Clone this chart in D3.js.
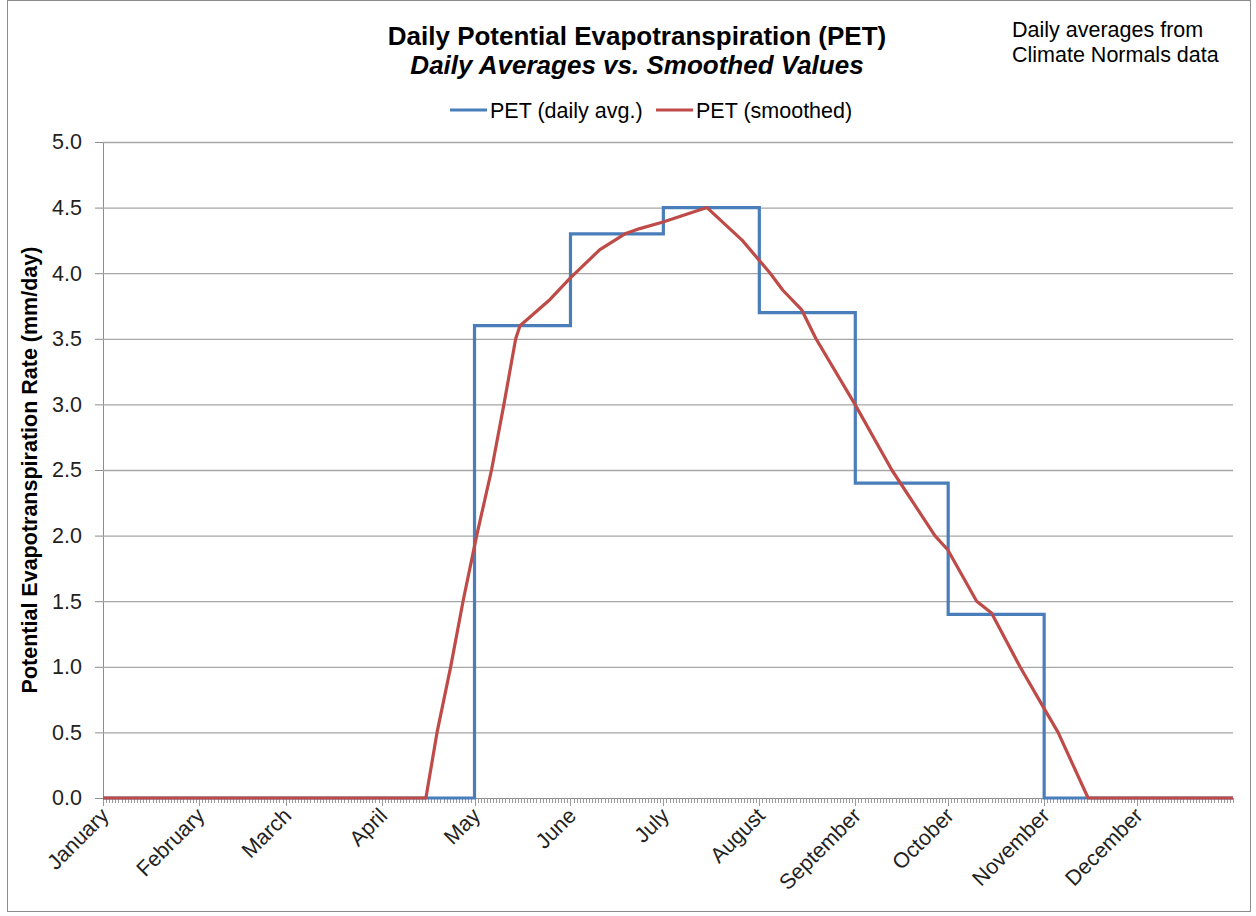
<!DOCTYPE html>
<html>
<head>
<meta charset="utf-8">
<script src="https://cdn.jsdelivr.net/npm/d3@7"></script>
<style>
  body { margin: 0; background: #fff; }
  text { font-family: "Liberation Sans", Arial, sans-serif; }
</style>
</head>
<body>
<div id="chart"></div>
<script>
// month names and first day of each month (day of year, 0-based)
const months = ["January", "February", "March", "April", "May", "June",
  "July", "August", "September", "October", "November", "December"];
const monthStart = [0, 31, 59, 90, 120, 151, 181, 212, 243, 273, 304, 334];
const daysInYear = 365;

// monthly daily-average PET (mm/day), held for the whole month
const petMonthly = [0, 0, 0, 0, 3.6, 4.3, 4.5, 3.7, 2.4, 1.4, 0, 0];

// smoothed PET (day of year, mm/day)
const smoothDay = [0, 104.3, 107.9, 112.3, 116.3, 120.7, 125.5, 129.5, 133.3, 134.7, 144.4,
  150.8, 160.5, 168.6, 173.4, 180.9, 195.1, 206.5, 215.5, 219.6, 225.7, 230.3,
  242.9, 254.8, 268.7, 272.9, 282.2, 287.0, 296.2, 304.3, 308.5, 318.2, 365];
const smoothPET = [0, 0, 0.5, 1.0, 1.5, 2.0, 2.5, 3.0, 3.5, 3.6, 3.8,
  3.96, 4.18, 4.30, 4.34, 4.39, 4.5, 4.25, 4.0, 3.87, 3.72, 3.5,
  3.0, 2.5, 2.0, 1.89, 1.5, 1.41, 1.0, 0.67, 0.5, 0, 0];

const yTicks = [0, 0.5, 1, 1.5, 2, 2.5, 3, 3.5, 4, 4.5, 5];

const W = 1256, H = 916;
const plot = {left: 103, right: 1233, top: 142, bottom: 798};

const svg = d3.select("#chart").append("svg")
  .attr("width", W).attr("height", H);

// chart frame
svg.append("rect")
  .attr("x", 7.5).attr("y", 0.5)
  .attr("width", 1243).attr("height", 911)
  .attr("fill", "#fff").attr("stroke", "#8c8c8c");

const x = d3.scaleLinear().domain([0, daysInYear]).range([plot.left, plot.right]);
const y = d3.scaleLinear().domain([0, 5]).range([plot.bottom, plot.top]);

// y axis
const yAxis = svg.append("g")
  .attr("transform", `translate(${plot.left},0)`)
  .call(d3.axisLeft(y).tickValues(yTicks).tickFormat(d3.format(".1f"))
    .tickSize(8).tickPadding(13));
yAxis.select(".domain").attr("stroke", "#8c8c8c");
yAxis.selectAll(".tick line").attr("stroke", "#8c8c8c");
yAxis.selectAll(".tick text")
  .attr("font-size", 21.5).attr("fill", "#222")
  .style("font-family", "'Liberation Sans', Arial, sans-serif");

// gridlines
svg.append("g").selectAll("line")
  .data(yTicks.filter(d => d > 0))
  .join("line")
  .attr("x1", plot.left).attr("x2", plot.right)
  .attr("y1", d => y(d) + 0.5).attr("y2", d => y(d) + 0.5)
  .attr("stroke", "#a6a6a6").attr("stroke-width", 1.3);

// x axis with daily ticks
const xg = svg.append("g");
xg.append("line")
  .attr("x1", plot.left).attr("x2", plot.right)
  .attr("y1", plot.bottom + 0.5).attr("y2", plot.bottom + 0.5)
  .attr("stroke", "#8c8c8c");
xg.selectAll("line.day")
  .data(d3.range(0, daysInYear + 1))
  .join("line")
  .attr("class", "day")
  .attr("x1", d => Math.round(x(d)) + 0.5).attr("x2", d => Math.round(x(d)) + 0.5)
  .attr("y1", plot.bottom)
  .attr("y2", d => plot.bottom + (monthStart.includes(d) ? 8 : 5))
  .attr("stroke", "#9a9a9a").attr("stroke-width", 1);

xg.selectAll("text.month")
  .data(months)
  .join("text")
  .attr("class", "month")
  .attr("transform", (d, i) => `translate(${x(monthStart[i]) + 7},${plot.bottom + 19}) rotate(-45)`)
  .attr("text-anchor", "end")
  .attr("font-size", 21.5)
  .attr("fill", "#222")
  .text(d => d);

// series
const stepPts = petMonthly.map((v, i) => [monthStart[i], v]).concat([[daysInYear, 0]]);
svg.append("path")
  .attr("d", d3.line().x(d => x(d[0])).y(d => y(d[1])).curve(d3.curveStepAfter)(stepPts))
  .attr("fill", "none").attr("stroke", "#4a7ebb").attr("stroke-width", 3.2);

svg.append("path")
  .attr("d", d3.line().x(d => x(d)).y((d, i) => y(smoothPET[i]))(smoothDay))
  .attr("fill", "none").attr("stroke", "#be4b48").attr("stroke-width", 3.2)
  .attr("stroke-linejoin", "round");

// titles
svg.append("text")
  .attr("x", 637).attr("y", 45)
  .attr("text-anchor", "middle").attr("font-size", 26).attr("font-weight", "bold")
  .text("Daily Potential Evapotranspiration (PET)");
svg.append("text")
  .attr("x", 637).attr("y", 74)
  .attr("text-anchor", "middle").attr("font-size", 26).attr("font-weight", "bold")
  .attr("font-style", "italic")
  .text("Daily Averages vs. Smoothed Values");

svg.append("text")
  .attr("x", 1012).attr("y", 37).attr("font-size", 21.5)
  .text("Daily averages from");
svg.append("text")
  .attr("x", 1012).attr("y", 62).attr("font-size", 21.5)
  .text("Climate Normals data");

// legend
const legend = [
  {label: "PET (daily avg.)", color: "#4a7ebb", x: 450},
  {label: "PET (smoothed)", color: "#be4b48", x: 656}
];
const lg = svg.append("g").selectAll("g").data(legend).join("g")
  .attr("transform", d => `translate(${d.x},110)`);
lg.append("line").attr("x1", 0).attr("x2", 37)
  .attr("stroke", d => d.color).attr("stroke-width", 3.2);
lg.append("text").attr("x", 40).attr("y", 8).attr("font-size", 21.5)
  .text(d => d.label);

// y axis title
svg.append("text")
  .attr("transform", "translate(37,470) rotate(-90)")
  .attr("text-anchor", "middle").attr("font-size", 21.5).attr("font-weight", "bold")
  .text("Potential Evapotranspiration Rate (mm/day)");
</script>
</body>
</html>
